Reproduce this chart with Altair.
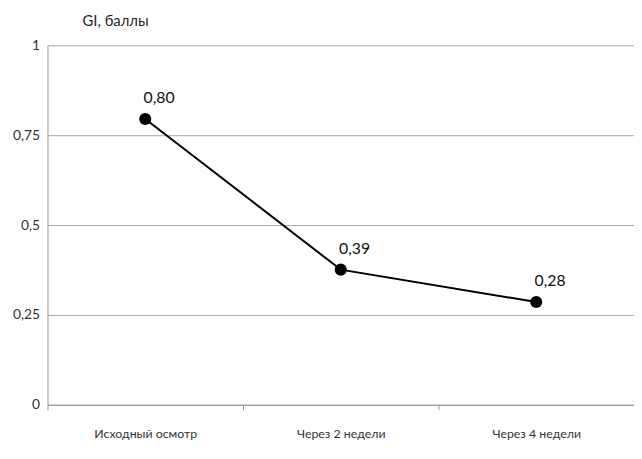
import altair as alt
import pandas as pd

categories = ["Исходный осмотр", "Через 2 недели", "Через 4 недели"]
values = [0.795, 0.376, 0.286]
labels = ["0,80", "0,39", "0,28"]

df = pd.DataFrame({"cat": categories, "val": values, "lab": labels})

FONT = "Lato"

x = alt.X("cat:N", sort=categories, scale=alt.Scale(type="band", paddingInner=0, paddingOuter=0),
          axis=alt.Axis(title=None, labelAngle=0, tickBand="extent", ticks=True, tickSize=5,
                        tickColor="#999999", domainColor="#999999", labelPadding=18,
                        labelFontSize=12.5, labelColor="#333333", labelFont=FONT, grid=False))
y = alt.Y("val:Q", scale=alt.Scale(domain=[0, 1], nice=False),
          axis=alt.Axis(values=[0, 0.25, 0.5, 0.75, 1], ticks=False, domainColor="#999999",
                        gridColor="#a6a6a6", labelPadding=8, labelFontSize=14, labelColor="#333333",
                        labelFont=FONT, labelExpr="replace(format(datum.value, ''), '.', ',')",
                        title="GI, баллы", titleAngle=0, titleAlign="left", titleBaseline="alphabetic",
                        titleX=35, titleY=-20, titleFontSize=15, titleFontWeight="normal",
                        titleFont=FONT, titleColor="#222222"))

base = alt.Chart(df).encode(x=x, y=y)

line = base.mark_line(color="black", strokeWidth=2)
pts = base.mark_circle(color="black", size=150, opacity=1)
txt = base.mark_text(dx=14, dy=-21, fontSize=16, font=FONT, color="#111111").encode(text="lab:N")

chart = (line + pts + txt).properties(
    width=594, height=364,
    autosize=alt.AutoSizeParams(type="none"),
    padding={"left": 40, "top": 35, "right": 0, "bottom": 45},
).configure_view(stroke=None)

chart.save("out.html", embed_options={"renderer": "svg", "actions": False})
